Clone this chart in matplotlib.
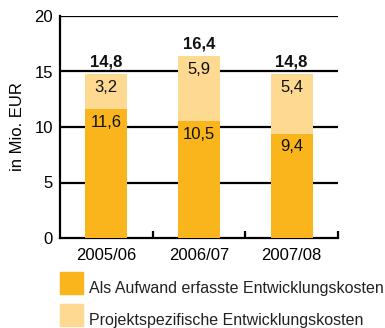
import matplotlib
matplotlib.use("Agg")
import matplotlib.pyplot as plt
from matplotlib.patches import Rectangle

categories = ["2005/06", "2006/07", "2007/08"]
aufwand = [11.6, 10.5, 9.4]
projekt = [3.2, 5.9, 5.4]
totals = [14.8, 16.4, 14.8]
aufwand_labels = ["11,6", "10,5", "9,4"]
projekt_labels = ["3,2", "5,9", "5,4"]
total_labels = ["14,8", "16,4", "14,8"]
legend_labels = ["Als Aufwand erfasste Entwicklungskosten", "Projektspezifische Entwicklungskosten"]
yticks = [0, 5, 10, 15, 20]

dark = "#F9B51B"
light = "#FDD992"

plt.rcParams['font.family'] = ['Liberation Sans', 'DejaVu Sans']

fig = plt.figure(figsize=(3.85, 3.28), dpi=100)
W, H = 385, 328
ax = fig.add_axes([60 / W, 1 - 238 / H, 278 / W, 222 / H])

x = [i + 0.5 for i in range(len(categories))]
bw = 0.45
ax.bar(x, aufwand, width=bw, color=dark, zorder=3)
ax.bar(x, projekt, width=bw, bottom=aufwand, color=light, zorder=3)

fs = 12
for xi, a, p, t, al, pl, tl in zip(x, aufwand, projekt, totals, aufwand_labels, projekt_labels, total_labels):
    ax.annotate(tl, (xi, t), xytext=(0, 8.5), textcoords="offset points", ha="center", va="center",
                fontsize=fs, fontweight="bold", color="#111111", zorder=5)
    ax.annotate(pl, (xi, a + p), xytext=(0, -10), textcoords="offset points", ha="center", va="center",
                fontsize=fs, color="#111111", zorder=5)
    ax.annotate(al, (xi, a), xytext=(0, -9.5), textcoords="offset points", ha="center", va="center",
                fontsize=fs, color="#111111", zorder=5)

ax.set_xlim(0, 3)
ax.set_ylim(0, 20)
ax.set_yticks(yticks)
ax.set_yticklabels([str(v) for v in yticks], fontsize=fs)
ax.tick_params(axis="y", length=0, pad=5)
for v in yticks[1:]:
    ax.axhline(v, color="black", lw=1.6, zorder=2)

ax.set_xticks([1, 2, 3])
ax.set_xticklabels([])
ax.tick_params(axis="x", direction="in", length=5, width=1.6, color="black")
for xi, c in zip(x, categories):
    ax.text(xi, -0.045, c, transform=ax.get_xaxis_transform(), ha="center", va="top", fontsize=fs)

for s in ["top", "right"]:
    ax.spines[s].set_visible(False)
ax.spines["left"].set_linewidth(1.6)
ax.spines["bottom"].set_linewidth(1.6)
ax.set_ylabel("in Mio. EUR", fontsize=fs, labelpad=7)

# legend
for i, (lab, col) in enumerate(zip(legend_labels, [dark, light])):
    y0 = 272 + i * 32
    fig.patches.append(Rectangle((60 / W, 1 - (y0 + 22) / H), 23 / W, 22 / H, transform=fig.transFigure,
                                 color=col, figure=fig))
    fig.text(89 / W, 1 - (y0 + 16) / H, lab, fontsize=11.5, va="center", ha="left", color="#222222")

fig.savefig("out.png", dpi=100)
